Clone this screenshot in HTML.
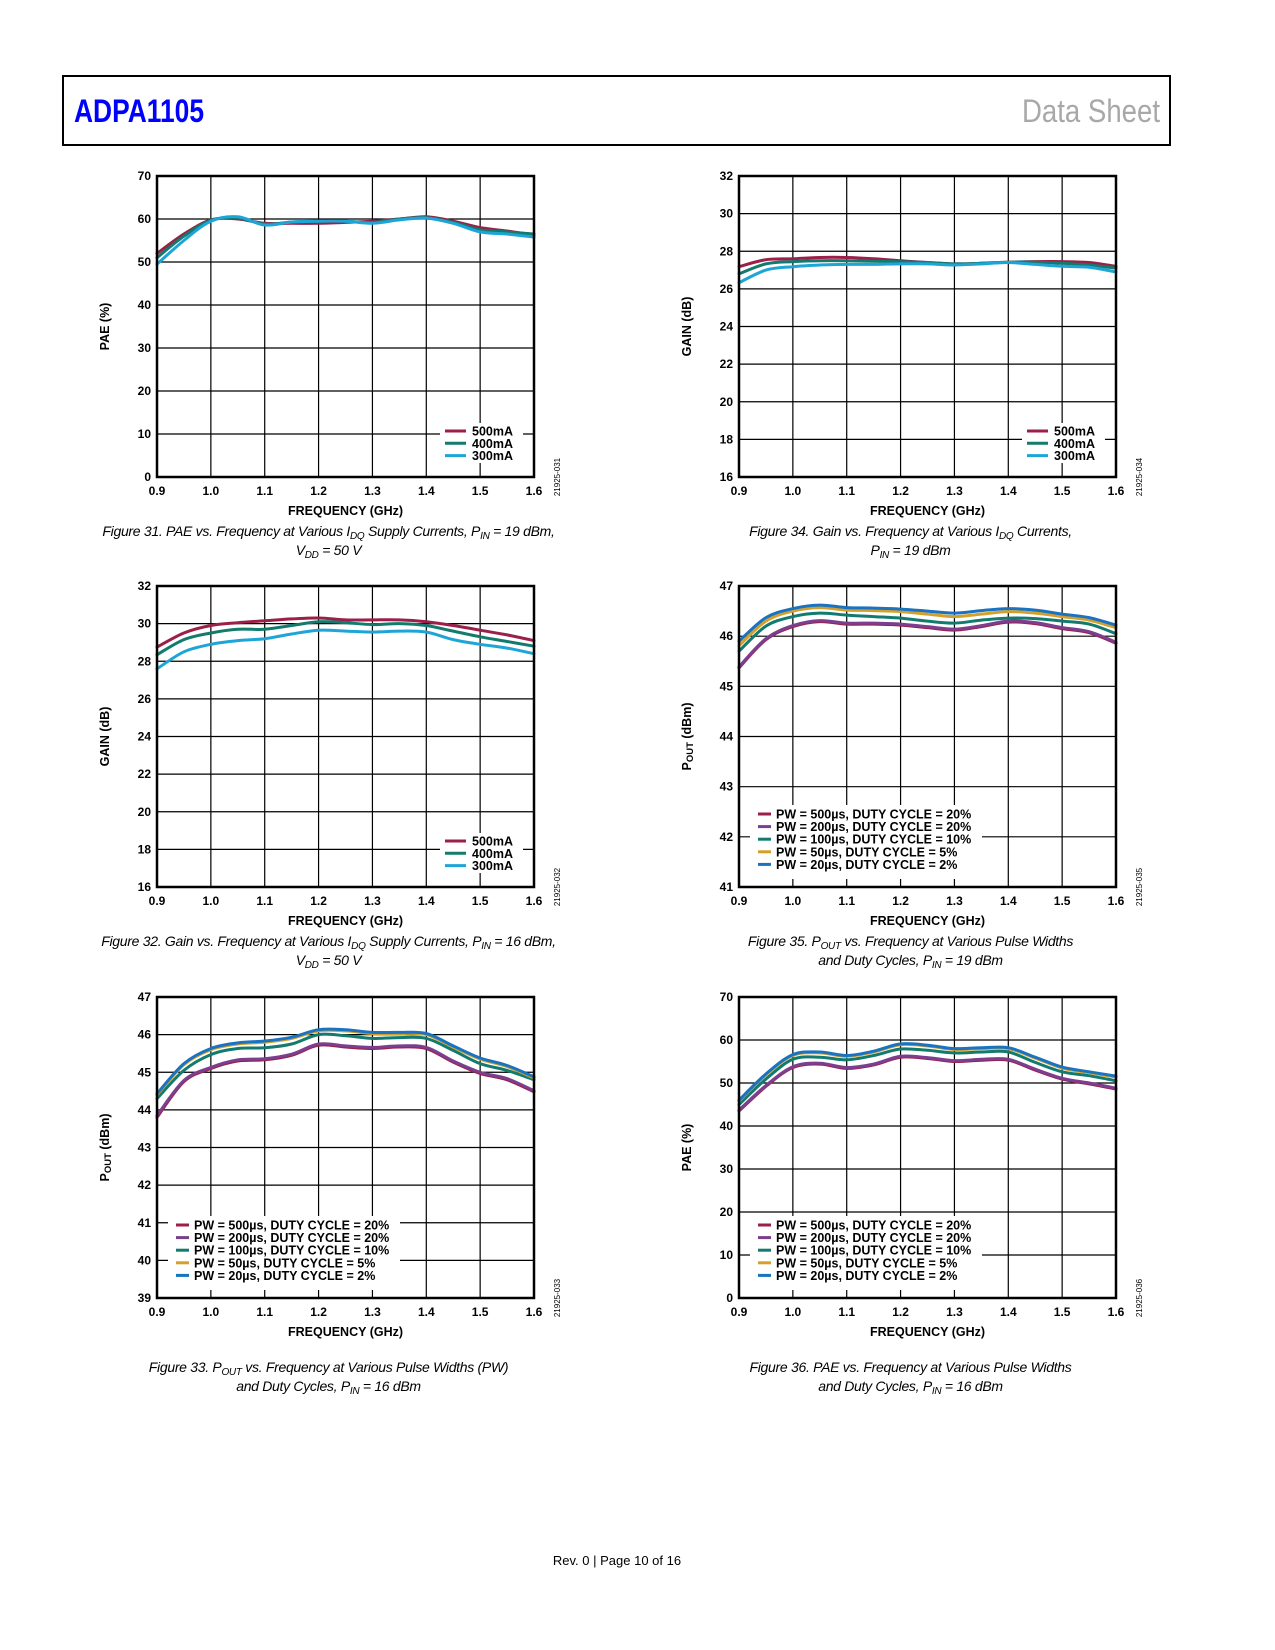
<!DOCTYPE html>
<html><head><meta charset="utf-8"><style>
html,body{margin:0;padding:0;background:#fff}
svg{display:block}
text{font-family:"Liberation Sans",sans-serif}
.tick{font-size:12px;font-weight:bold}
.cap{font-size:14px;font-style:italic;letter-spacing:-0.3px}
.leg{font-size:12.5px;font-weight:bold}
</style></head><body>
<svg id="pg" width="1275" height="1650" viewBox="0 0 1275 1650">
<rect x="63" y="76" width="1107" height="69" fill="none" stroke="#000" stroke-width="2"/>
<text x="74" y="122" font-size="32" font-weight="bold" fill="#0000ff" textLength="130" lengthAdjust="spacingAndGlyphs">ADPA1105</text>
<text x="1160" y="122" font-size="32" fill="#a8a8a8" text-anchor="end" textLength="138" lengthAdjust="spacingAndGlyphs">Data Sheet</text>
<text x="617" y="1565" font-size="13" text-anchor="middle">Rev. 0 | Page 10 of 16</text>
</svg>
<script>
const freq=[0.9,0.95,1.0,1.05,1.1,1.15,1.2,1.25,1.3,1.35,1.4,1.45,1.5,1.55,1.6];
const xTicks=["0.9","1.0","1.1","1.2","1.3","1.4","1.5","1.6"];
// Fig 31 PAE
const f31_500=[52,56.5,59.8,60,59,59,59,59.2,59.5,60,60.5,59.5,58,57.2,56.3];
const f31_400=[51,56,59.7,60.2,58.8,59.3,59.5,59.5,59.2,60,60.3,59.2,57.5,57,56.5];
const f31_300=[49.5,55,59.5,60.5,58.6,59.3,59.5,59.5,59,59.8,60.2,59,57,56.5,55.8];
// Fig 32 Gain
const f32_500=[28.75,29.5,29.9,30.05,30.15,30.25,30.3,30.2,30.2,30.2,30.1,29.9,29.65,29.4,29.1];
const f32_400=[28.35,29.15,29.5,29.7,29.7,29.9,30.1,30.05,29.95,30,29.9,29.6,29.3,29.05,28.8];
const f32_300=[27.6,28.5,28.9,29.1,29.2,29.45,29.65,29.6,29.55,29.6,29.55,29.15,28.9,28.7,28.4];
// Fig 33 Pout
const f33_500=[43.8,44.75,45.1,45.3,45.33,45.45,45.72,45.67,45.63,45.67,45.63,45.27,44.97,44.8,44.48];
const f33_200=[43.85,44.78,45.13,45.33,45.36,45.48,45.75,45.7,45.66,45.7,45.66,45.3,45,44.83,44.51];
const f33_100=[44.3,45.05,45.47,45.63,45.65,45.75,46,45.97,45.9,45.92,45.9,45.58,45.23,45.05,44.8];
const f33_50=[44.4,45.2,45.6,45.75,45.8,45.9,46.1,46.1,46.03,46.03,46,45.67,45.35,45.15,44.85];
const f33_20=[44.43,45.23,45.63,45.78,45.83,45.93,46.13,46.13,46.06,46.06,46.03,45.7,45.38,45.18,44.88];
// Fig 34 Gain
const f34_500=[27.18,27.55,27.6,27.67,27.67,27.6,27.49,27.4,27.33,27.36,27.42,27.45,27.45,27.4,27.2];
const f34_400=[26.8,27.33,27.45,27.5,27.5,27.47,27.44,27.4,27.33,27.36,27.42,27.42,27.36,27.27,27.1];
const f34_300=[26.33,27,27.18,27.27,27.3,27.3,27.33,27.33,27.27,27.33,27.4,27.3,27.2,27.15,26.9];
// Fig 35 Pout
const f35_500=[45.37,45.93,46.19,46.29,46.24,46.24,46.22,46.17,46.12,46.19,46.28,46.25,46.15,46.07,45.86];
const f35_200=[45.39,45.95,46.21,46.31,46.26,46.26,46.24,46.19,46.14,46.21,46.3,46.27,46.17,46.09,45.88];
const f35_100=[45.7,46.2,46.39,46.46,46.42,46.39,46.36,46.3,46.26,46.32,46.36,46.35,46.3,46.24,46.05];
const f35_50=[45.81,46.3,46.5,46.57,46.52,46.51,46.49,46.44,46.39,46.44,46.49,46.46,46.39,46.32,46.17];
const f35_20=[45.9,46.37,46.55,46.62,46.57,46.56,46.54,46.5,46.46,46.51,46.55,46.52,46.44,46.37,46.22];
// Fig 36 PAE
const f36_500=[43.5,49.2,53.6,54.4,53.4,54.2,56,55.7,55,55.3,55.3,53,50.9,49.8,48.6];
const f36_200=[43.7,49.4,53.8,54.6,53.6,54.4,56.2,55.9,55.2,55.5,55.5,53.2,51.1,50,48.8];
const f36_100=[45,50.9,55.5,56,55.4,56.4,57.9,57.6,57,57.2,57.2,54.8,52.6,51.7,50.5];
const f36_50=[45.8,51.9,56.4,57,56.2,57.2,58.9,58.6,57.8,58,58,55.8,53.5,52.4,51.4];
const f36_20=[46,52.1,56.6,57.2,56.4,57.4,59.1,58.8,58,58.2,58.2,56,53.7,52.6,51.6];
const curLabels=["500mA","400mA","300mA"];
const pwLabels=["PW = 500µs, DUTY CYCLE = 20%","PW = 200µs, DUTY CYCLE = 20%","PW = 100µs, DUTY CYCLE = 10%","PW = 50µs, DUTY CYCLE = 5%","PW = 20µs, DUTY CYCLE = 2%"];

const NS="http://www.w3.org/2000/svg";
const pg=document.getElementById('pg');
function mk(tag,attrs,parent){const e=document.createElementNS(NS,tag);for(const k in attrs)e.setAttribute(k,attrs[k]);(parent||pg).appendChild(e);return e;}
const C3=["#9c1f4a","#137a6e","#1ea5d8"];
const C5=["#9c1f4a","#7b3f8f","#137a6e","#d4a02b","#1a73c0"];
const W=377,H=301;
const charts=[
 {id:"31",L:157,T:176,ymin:0,ymax:70,step:10,ylab:"PAE (%)",series:[f31_500,f31_400,f31_300],cols:C3,labels:curLabels,leg:"cur",cap:["Figure 31. PAE vs. Frequency at Various I<tspan font-size='10' dy='3'>DQ</tspan><tspan dy='-3'> Supply Currents, P</tspan><tspan font-size='10' dy='3'>IN</tspan><tspan dy='-3'> = 19 dBm,</tspan>","V<tspan font-size='10' dy='3'>DD</tspan><tspan dy='-3'> = 50 V</tspan>"],fid:"21925-031"},
 {id:"32",L:157,T:586,ymin:16,ymax:32,step:2,ylab:"GAIN (dB)",series:[f32_500,f32_400,f32_300],cols:C3,labels:curLabels,leg:"cur",cap:["Figure 32. Gain vs. Frequency at Various I<tspan font-size='10' dy='3'>DQ</tspan><tspan dy='-3'> Supply Currents, P</tspan><tspan font-size='10' dy='3'>IN</tspan><tspan dy='-3'> = 16 dBm,</tspan>","V<tspan font-size='10' dy='3'>DD</tspan><tspan dy='-3'> = 50 V</tspan>"],fid:"21925-032"},
 {id:"33",L:157,T:997,ymin:39,ymax:47,step:1,ylab:"POUT",series:[f33_500,f33_200,f33_100,f33_50,f33_20],cols:C5,labels:pwLabels,leg:"pw",cap:["Figure 33. P<tspan font-size='10' dy='3'>OUT</tspan><tspan dy='-3'> vs. Frequency at Various Pulse Widths (PW)</tspan>","and Duty Cycles, P<tspan font-size='10' dy='3'>IN</tspan><tspan dy='-3'> = 16 dBm</tspan>"],fid:"21925-033",capY:1372},
 {id:"34",L:739,T:176,ymin:16,ymax:32,step:2,ylab:"GAIN (dB)",series:[f34_500,f34_400,f34_300],cols:C3,labels:curLabels,leg:"cur",cap:["Figure 34. Gain vs. Frequency at Various I<tspan font-size='10' dy='3'>DQ</tspan><tspan dy='-3'> Currents,</tspan>","P<tspan font-size='10' dy='3'>IN</tspan><tspan dy='-3'> = 19 dBm</tspan>"],fid:"21925-034"},
 {id:"35",L:739,T:586,ymin:41,ymax:47,step:1,ylab:"POUT",series:[f35_500,f35_200,f35_100,f35_50,f35_20],cols:C5,labels:pwLabels,leg:"pw",cap:["Figure 35. P<tspan font-size='10' dy='3'>OUT</tspan><tspan dy='-3'> vs. Frequency at Various Pulse Widths</tspan>","and Duty Cycles, P<tspan font-size='10' dy='3'>IN</tspan><tspan dy='-3'> = 19 dBm</tspan>"],fid:"21925-035"},
 {id:"36",L:739,T:997,ymin:0,ymax:70,step:10,ylab:"PAE (%)",series:[f36_500,f36_200,f36_100,f36_50,f36_20],cols:C5,labels:pwLabels,leg:"pw",cap:["Figure 36. PAE vs. Frequency at Various Pulse Widths","and Duty Cycles, P<tspan font-size='10' dy='3'>IN</tspan><tspan dy='-3'> = 16 dBm</tspan>"],fid:"21925-036",capY:1372}
];
function pathD(pts){let d="M"+pts[0][0].toFixed(1)+","+pts[0][1].toFixed(1);
 for(let i=0;i<pts.length-1;i++){const p0=pts[Math.max(0,i-1)],p1=pts[i],p2=pts[i+1],p3=pts[Math.min(pts.length-1,i+2)];
  const c1=[p1[0]+(p2[0]-p0[0])/6,p1[1]+(p2[1]-p0[1])/6],c2=[p2[0]-(p3[0]-p1[0])/6,p2[1]-(p3[1]-p1[1])/6];
  d+=" C"+c1.map(v=>v.toFixed(1))+" "+c2.map(v=>v.toFixed(1))+" "+p2.map(v=>v.toFixed(1));}
 return d;}
charts.forEach(c=>{
 const g=mk('g',{});
 
 
 const xs=v=>c.L+(v-0.9)/0.7*W, ys=v=>c.T+H-(v-c.ymin)/(c.ymax-c.ymin)*H;
 for(let i=1;i<7;i++){const l=mk('line',{x1:xs(0.9+i*0.1),x2:xs(0.9+i*0.1),y1:c.T,y2:c.T+H,stroke:"#000","stroke-width":1.2},g);
  
  }
 for(let v=c.ymin+c.step;v<c.ymax-1e-9;v+=c.step){const l=mk('line',{x1:c.L,x2:c.L+W,y1:ys(v),y2:ys(v),stroke:"#000","stroke-width":1.2},g);
  
  }
 let lx,ly,lw,lh;
 if(c.leg==="cur"){lx=c.L+283;ly=c.T+H-54;lw=83;lh=40;}else{lx=c.L+11;ly=c.T+H-82;lw=232;lh=74;}
 const lb=mk('rect',{x:lx,y:ly,width:lw,height:lh,fill:"#fff"},g);
 
 
 c.series.forEach((s,si)=>{const pts=freq.map((f,i)=>[xs(f),ys(s[i])]);
  const p=mk('path',{d:pathD(pts),fill:"none",stroke:c.cols[si],"stroke-width":3,"stroke-linejoin":"round","stroke-linecap":"round"},g);
  
  });
 const b=mk('rect',{x:c.L,y:c.T,width:W,height:H,fill:"none",stroke:"#000","stroke-width":2.5},g);
 
 
 xTicks.forEach(t=>{const e=mk('text',{x:xs(+t),y:c.T+H+18,"text-anchor":"middle",class:"tick"},g);e.textContent=t;
  
  });
 for(let v=c.ymin;v<=c.ymax+1e-9;v+=c.step){const e=mk('text',{x:c.L-6,y:ys(v)+4,"text-anchor":"end",class:"tick"},g);e.textContent=String(v);
  
  }
 const xt=mk('text',{x:c.L+W/2,y:c.T+H+38,"text-anchor":"middle","font-size":12.5,"font-weight":"bold"},g);xt.textContent="FREQUENCY (GHz)";
 
 
 const yx=c.L-48,yy=c.T+H/2;
 const yt=mk('text',{x:yx,y:yy,"text-anchor":"middle","font-size":12.5,"font-weight":"bold",transform:`rotate(-90 ${yx} ${yy})`},g);
 if(c.ylab==="POUT"){yt.innerHTML="P<tspan font-size='9.5' dy='2'>OUT</tspan><tspan dy='-2'> (dBm)</tspan>";}else yt.textContent=c.ylab;
 
 
 const fx=c.L+W+26,fy=c.T+H;
 const fi=mk('text',{x:fx,y:fy,"text-anchor":"middle","font-size":8,transform:`rotate(-90 ${fx} ${fy})`},g);fi.textContent=c.fid;
 
 
 c.labels.forEach((lab,i)=>{let x0,y0,len,gap;
  if(c.leg==="cur"){x0=lx+5;y0=ly+8+i*12.3;len=21;gap=27;}else{x0=lx+8;y0=ly+9+i*12.6;len=13;gap=18;}
  const ln=mk('line',{x1:x0,x2:x0+len,y1:y0,y2:y0,stroke:c.cols[i],"stroke-width":3},g);
  
  
  const tx=mk('text',{x:x0+gap,y:y0+4.5,class:"leg"},g);tx.textContent=lab;
  
  });
 const cy=c.capY||(c.T+H+59);
 c.cap.forEach((line,i)=>{const t=mk('text',{x:c.L+W/2-17,y:cy+i*19,"text-anchor":"middle",class:"cap"},g);t.innerHTML=line;
  
  });
});
</script>
</body></html>
